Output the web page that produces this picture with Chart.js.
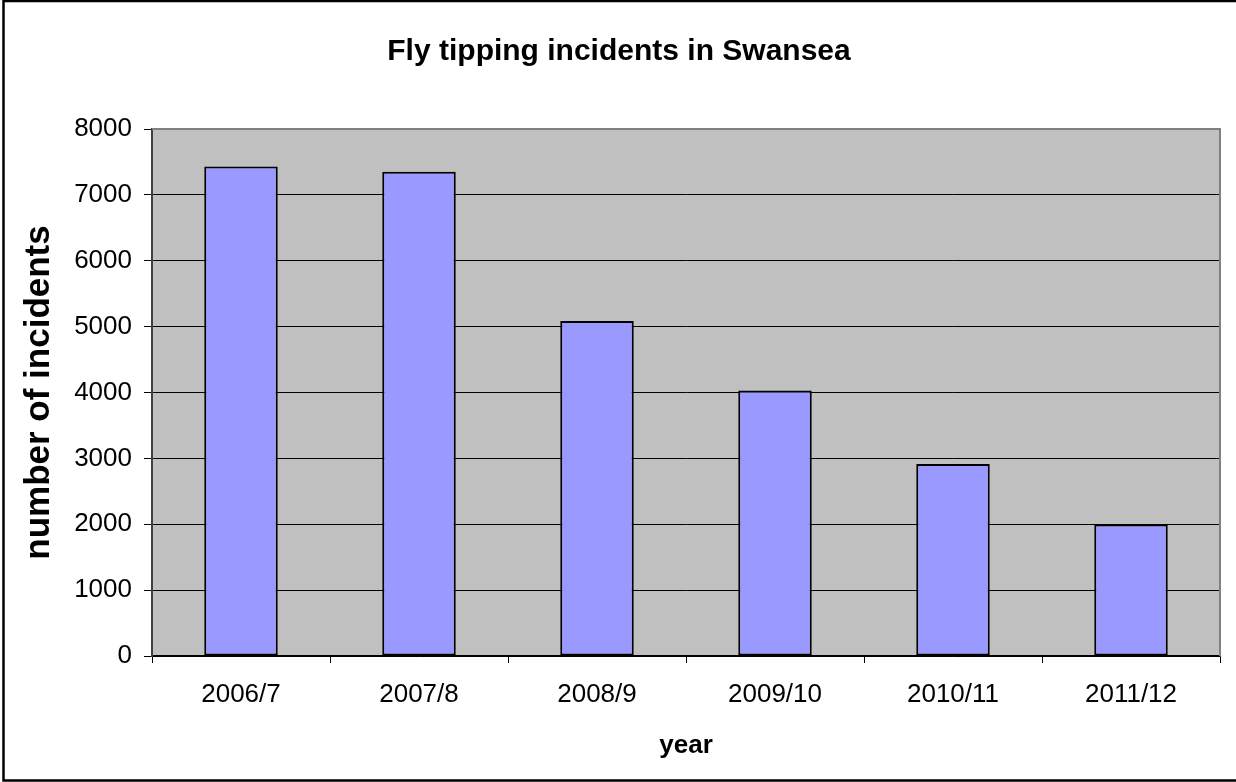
<!DOCTYPE html>
<html>
<head>
<meta charset="utf-8">
<title>Fly tipping incidents in Swansea</title>
<script src="https://cdn.jsdelivr.net/npm/chart.js@4/dist/chart.umd.min.js"></script>
<style>
    html, body { margin: 0; padding: 0; background: #fff; }
    #wrap { width: 1236px; height: 782px; position: relative; }
</style>
</head>
<body>
<div id="wrap"><canvas id="chart" width="1236" height="782"></canvas></div>
<script>
const years = ['2006/7', '2007/8', '2008/9', '2009/10', '2010/11', '2011/12'];
const incidents = [7430, 7350, 5085, 4030, 2915, 1995];
const yTicks = [0, 1000, 2000, 3000, 4000, 5000, 6000, 7000, 8000];

Chart.defaults.font.family = "'Liberation Sans', Arial, sans-serif";
Chart.defaults.color = '#000';

// grey plot background, outer frame and the grey top/right plot border
const plotFrame = {
    id: 'plotFrame',
    beforeDraw(chart) {
        const { ctx, chartArea: a } = chart;
        ctx.save();
        ctx.fillStyle = '#fff';
        ctx.fillRect(0, 0, chart.width, chart.height);
        ctx.fillStyle = '#c0c0c0';
        ctx.fillRect(a.left, a.top, a.right - a.left, a.bottom - a.top);
        ctx.strokeStyle = '#000';
        ctx.lineWidth = 2.5;
        ctx.strokeRect(3.5, 1, chart.width + 10, chart.height - 2.5);
        ctx.restore();
    },
    beforeDatasetsDraw(chart) {
        const { ctx, chartArea: a } = chart;
        ctx.save();
        ctx.strokeStyle = '#808080';
        ctx.lineWidth = 2;
        ctx.beginPath();
        ctx.moveTo(a.left, a.top);
        ctx.lineTo(a.right, a.top);
        ctx.lineTo(a.right, a.bottom);
        ctx.stroke();
        ctx.restore();
    }
};

new Chart(document.getElementById('chart').getContext('2d'), {
    type: 'bar',
    data: {
        labels: years,
        datasets: [{
            data: incidents,
            backgroundColor: '#9999ff',
            borderColor: '#000',
            borderWidth: 2,
            borderSkipped: false,
            barPercentage: 0.413,
            categoryPercentage: 1
        }]
    },
    options: {
        responsive: false,
        animation: false,
        layout: { padding: { left: 18, right: 16, top: 0, bottom: 21 } },
        plugins: {
            legend: { display: false },
            tooltip: { enabled: false },
            title: {
                display: true,
                text: 'Fly tipping incidents in Swansea',
                color: '#000',
                font: { size: 30, weight: 'bold' },
                padding: { top: 34, bottom: 59 }
            }
        },
        scales: {
            x: {
                grid: {
                    offset: true,
                    drawOnChartArea: false,
                    drawTicks: true,
                    tickLength: 7,
                    color: '#000'
                },
                border: { color: '#000', width: 1.5 },
                ticks: { font: { size: 26 }, padding: 16, color: '#000' },
                title: {
                    display: true,
                    text: 'year',
                    color: '#000',
                    font: { size: 26, weight: 'bold' },
                    padding: 0
                },
                afterFit(scale) { scale.height = 105; }
            },
            y: {
                min: 0,
                max: 8000,
                afterBuildTicks(scale) {
                    scale.ticks = yTicks.map(v => ({ value: v }));
                },
                grid: { color: '#000', tickLength: 8, lineWidth: 1 },
                border: { color: '#404040', width: 2 },
                ticks: {
                    font: { size: 26 },
                    padding: 12,
                    color: '#000',
                    callback: v => String(v)
                },
                title: {
                    display: true,
                    text: 'number of incidents',
                    color: '#000',
                    font: { size: 35, weight: 'bold' },
                    padding: { top: 0, bottom: 0 }
                },
                afterFit(scale) { scale.width = 134; }
            }
        }
    },
    plugins: [plotFrame]
});
</script>
</body>
</html>
